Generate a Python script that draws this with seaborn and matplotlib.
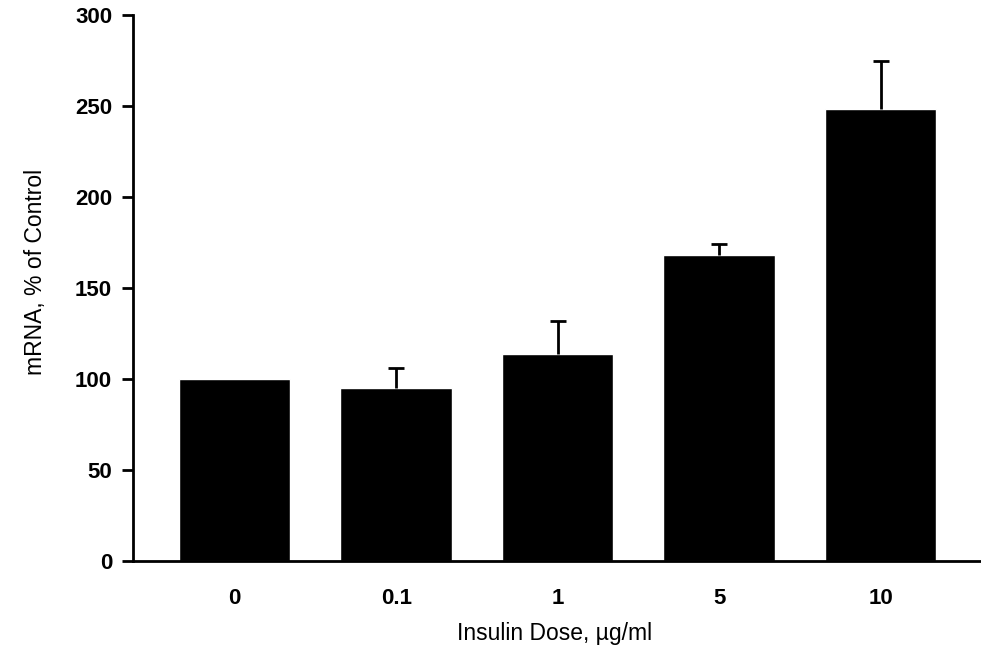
import numpy as np
import pandas as pd
import matplotlib
matplotlib.use("Agg")
import matplotlib.pyplot as plt
import seaborn as sns

# data
doses = ["0", "0.1", "1", "5", "10"]
mrna_pct = [100, 95, 114, 168, 248.5]
err_upper = [0, 11, 18, 6, 26]

sns.set_theme(style="ticks")
plt.rcParams["font.family"] = ["Liberation Sans", "DejaVu Sans"]

df = pd.DataFrame({"dose": doses, "mrna": mrna_pct})

fig = plt.figure(figsize=(9.81, 6.51), dpi=100)
ax = fig.add_axes([0.1356, 0.138, 0.864, 0.839])

sns.barplot(data=df, x="dose", y="mrna", order=doses, color="black",
            saturation=1, width=0.69, errorbar=None, ax=ax)

# upper-only error bars (hide the lower cap sitting on the bar top)
xs = np.arange(len(doses))
has_err = np.array(err_upper) > 0
_, caps, _ = ax.errorbar(xs[has_err], np.array(mrna_pct)[has_err],
                         yerr=[np.zeros(has_err.sum()), np.array(err_upper)[has_err]],
                         fmt="none", ecolor="black", elinewidth=2, capsize=5.5, capthick=2)
caps[0].set_visible(False)

ax.set_ylim(0, 300)
ax.set_xlim(-0.63, 4.62)
ax.set_yticks(range(0, 301, 50))

for side in ["top", "right"]:
    ax.spines[side].set_visible(False)
for side in ["left", "bottom"]:
    ax.spines[side].set_linewidth(2)
    ax.spines[side].set_color("black")

ax.tick_params(axis="y", length=8, width=2, pad=7, labelsize=16, colors="black")
ax.tick_params(axis="x", length=0, pad=19, labelsize=16, colors="black")
for lab in ax.get_xticklabels() + ax.get_yticklabels():
    lab.set_fontweight("bold")

ax.set_xlabel("Insulin Dose, \u00b5g/ml", fontsize=16.5, color="black")
ax.set_ylabel("mRNA, % of Control", fontsize=16.5, color="black")
ax.xaxis.set_label_coords(0.497, -0.112)
ax.yaxis.set_label_coords(-0.101, 0.53)

fig.savefig("out.png", dpi=100, facecolor="white")
